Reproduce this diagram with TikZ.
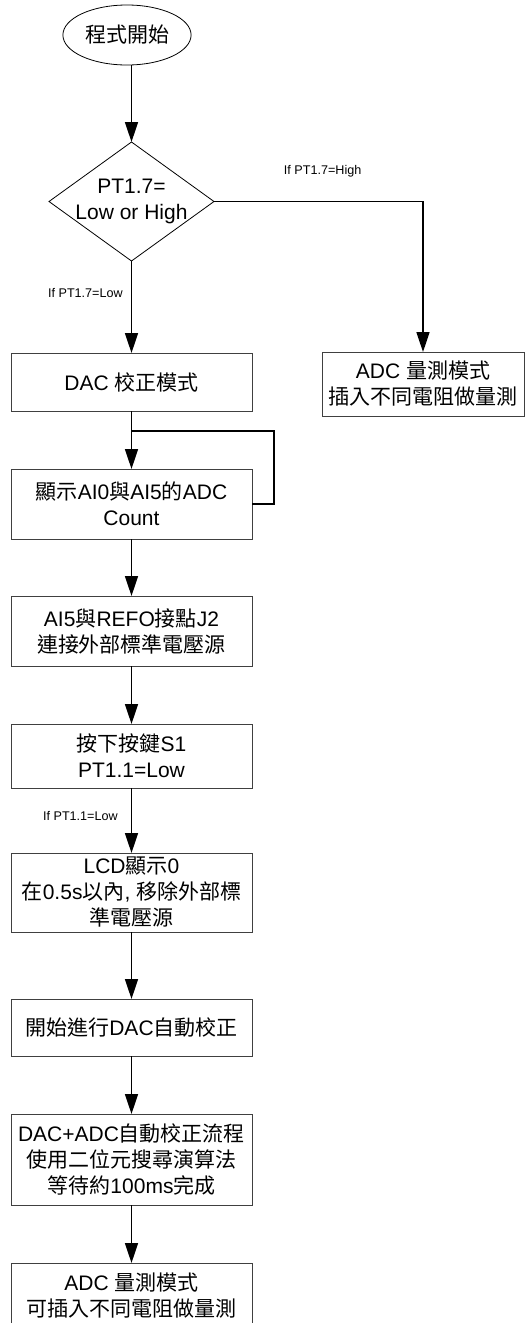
\documentclass[tikz,border=0pt]{standalone}
\usepackage{fontspec}
\setmainfont{Liberation Sans}
\newfontfamily\cjk{Noto Sans CJK TC}
\newcommand{\zh}[1]{{\cjk #1}}
\usepackage{xcolor}
\usetikzlibrary{arrows.meta,positioning,shapes.geometric}
\definecolor{boxline}{HTML}{404040}

\begin{document}
\begin{tikzpicture}[x=1pt, y=-1pt, node distance=58pt,
  every node/.style={font=\fontsize{21}{26}\selectfont},
  procbox/.style={draw=boxline, line width=0.9pt, minimum width=241pt, align=center, inner sep=2pt, outer sep=0pt},
  decision/.style={draw, diamond, line width=0.8pt, minimum width=165pt, minimum height=119pt, inner sep=0pt, outer sep=0pt},
  terminal/.style={draw, ellipse, line width=0.8pt, minimum width=128pt, minimum height=60pt},
  flow/.style={-{Triangle[length=20pt, width=13pt]}, line width=1.6pt},
  cond/.style={font=\fontsize{12.6}{15}\selectfont, inner sep=0pt}]
  \useasboundingbox (0,0) rectangle (528,1323);

  \node[terminal] (start) at (127,35) {\zh{程式開始}};
  \node[decision] (dec) at (131.5,201.5) {};
  \node[align=center, inner sep=0pt] (dectext) at (dec) {PT1.7=\\Low or High};

  \node[procbox, minimum height=58pt, below=92pt of dec] (dacmode) {DAC \zh{校正模式}};
  \node[procbox, minimum height=64pt, minimum width=202pt, right=70pt of dacmode, yshift=-2pt] (adcright) {ADC \zh{量測模式}\\\zh{插入不同電阻做量測}};
  \node[procbox, minimum height=70pt, below=of dacmode] (showcount) {\zh{顯示}AI0\zh{與}AI5\zh{的}ADC\\Count};
  \node[procbox, minimum height=70pt, below=57pt of showcount] (connref) {AI5\zh{與}REFO\zh{接點}J2\\\zh{連接外部標準電壓源}};
  \node[procbox, minimum height=64pt, below=of connref] (pressbtn) {\zh{按下按鍵}S1\\PT1.1=Low};
  \node[procbox, minimum height=79pt, below=65pt of pressbtn] (lcdzero) {LCD\zh{顯示}0\\\zh{在}0.5s\zh{以內}, \zh{移除外部標}\\\zh{準電壓源}};
  \node[procbox, minimum height=57pt, below=67pt of lcdzero] (autocal) {\zh{開始進行}DAC\zh{自動校正}};
  \node[procbox, minimum height=91pt, below=of autocal] (binsearch) {DAC+ADC\zh{自動校正流程}\\\zh{使用二位元搜尋演算法}\\\zh{等待約}100ms\zh{完成}};
  \node[procbox, minimum height=65pt, below=of binsearch] (adcmode) {ADC \zh{量測模式}\\\zh{可插入不同電阻做量測}};

  \coordinate[below=20pt of dacmode] (loopjoin);

  \draw[flow] (start.south -| dec.north) -- (dec.north);
  \draw[flow] (dec.east) -| node[cond, pos=0.26, above=24pt] {If PT1.7=High} (adcright.north);
  \draw[flow] (dec.south) -- node[cond, pos=0.35, left=8pt] {If PT1.7=Low} (dacmode);
  \draw[flow] (dacmode) -- (showcount);
  \draw[line width=1.3pt] (showcount.east) -- ++(22,0) |- (loopjoin);
  \draw[flow] (showcount) -- (connref);
  \draw[flow] (connref) -- (pressbtn);
  \draw[flow] (pressbtn) -- node[cond, pos=0.43, left=13pt] {If PT1.1=Low} (lcdzero);
  \draw[flow] (lcdzero) -- (autocal);
  \draw[flow] (autocal) -- (binsearch);
  \draw[flow] (binsearch) -- (adcmode);
\end{tikzpicture}
\end{document}
